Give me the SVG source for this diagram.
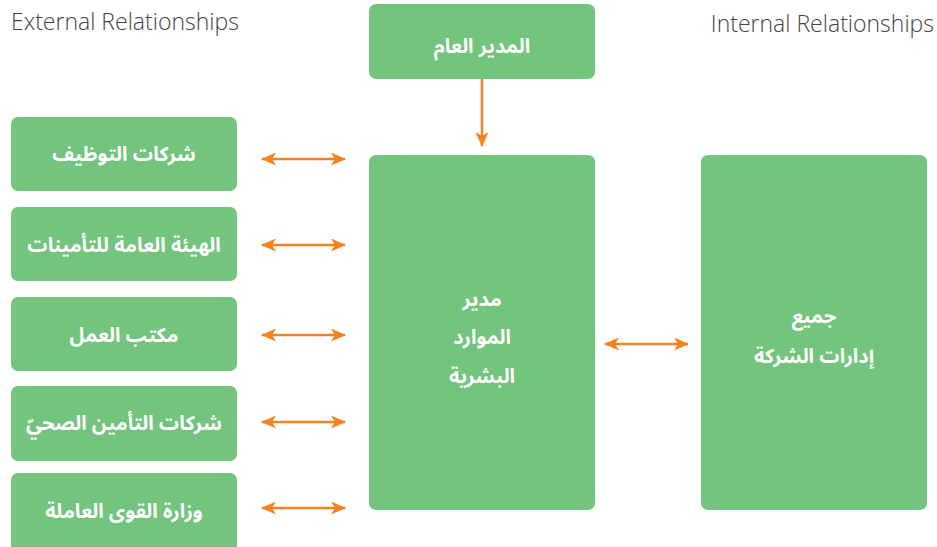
<svg xmlns="http://www.w3.org/2000/svg" width="937" height="547" viewBox="0 0 937 547">
<defs>
<style>
.box{fill:#73C47D;}
.t{font-family:"Noto Sans Arabic","DejaVu Sans",sans-serif;font-weight:bold;font-size:20px;fill:#fff;text-anchor:middle;}
.lbl{font-family:"Open Sans","Noto Sans",sans-serif;font-weight:300;font-size:23px;fill:#444;}
.c{stroke:#F58220;stroke-width:2.5;fill:none;}
</style>
<marker id="ah" viewBox="0 0 15 13" refX="14" refY="6.5" markerWidth="15" markerHeight="13" markerUnits="userSpaceOnUse" orient="auto-start-reverse">
<path d="M0,0 L15,6.5 L0,13 L4,6.5 Z" fill="#F58220"/>
</marker>
</defs>
<rect width="937" height="547" fill="#fff"/>
<text class="lbl" x="11" y="30">External Relationships</text>
<text class="lbl" x="934" y="32" text-anchor="end">Internal Relationships</text>

<g id="gm"><rect class="box" x="369" y="4" width="226" height="75" rx="7"/><text class="t" x="482" y="53" direction="rtl">المدير العام</text></g>
<g id="hr"><rect class="box" x="369" y="155" width="226" height="355" rx="7"/>
<text class="t" x="482" y="306" direction="rtl">مدير</text>
<text class="t" x="482" y="344" direction="rtl">الموارد</text>
<text class="t" x="482" y="383" direction="rtl">البشرية</text></g>
<g id="all"><rect class="box" x="701" y="155" width="226" height="355" rx="7"/>
<text class="t" x="814" y="323" direction="rtl">جميع</text>
<text class="t" x="814" y="363" direction="rtl">إدارات الشركة</text></g>

<g id="n1"><rect class="box" x="11" y="117" width="226" height="74" rx="7"/><text class="t" x="124" y="161" direction="rtl">شركات التوظيف</text></g>
<g id="n2"><rect class="box" x="11" y="207" width="226" height="74" rx="7"/><text class="t" x="124" y="252" direction="rtl">الهيئة العامة للتأمينات</text></g>
<g id="n3"><rect class="box" x="11" y="297" width="226" height="74" rx="7"/><text class="t" x="124" y="342" direction="rtl">مكتب العمل</text></g>
<g id="n4"><rect class="box" x="11" y="386" width="226" height="75" rx="7"/><text class="t" x="124" y="430" direction="rtl">شركات التأمين الصحيّ</text></g>
<g id="n5"><rect class="box" x="11" y="473" width="226" height="80" rx="7"/><text class="t" x="124" y="518" direction="rtl">وزارة القوى العاملة</text></g>

<g id="connectors">
<line class="c" x1="482" y1="79" x2="482" y2="146" marker-end="url(#ah)"/>
<line class="c" x1="262" y1="159" x2="345" y2="159" marker-start="url(#ah)" marker-end="url(#ah)"/>
<line class="c" x1="262" y1="245" x2="345" y2="245" marker-start="url(#ah)" marker-end="url(#ah)"/>
<line class="c" x1="262" y1="335" x2="345" y2="335" marker-start="url(#ah)" marker-end="url(#ah)"/>
<line class="c" x1="262" y1="422" x2="345" y2="422" marker-start="url(#ah)" marker-end="url(#ah)"/>
<line class="c" x1="262" y1="508" x2="345" y2="508" marker-start="url(#ah)" marker-end="url(#ah)"/>
<line class="c" x1="605" y1="344" x2="688" y2="344" marker-start="url(#ah)" marker-end="url(#ah)"/>
</g>
</svg>
